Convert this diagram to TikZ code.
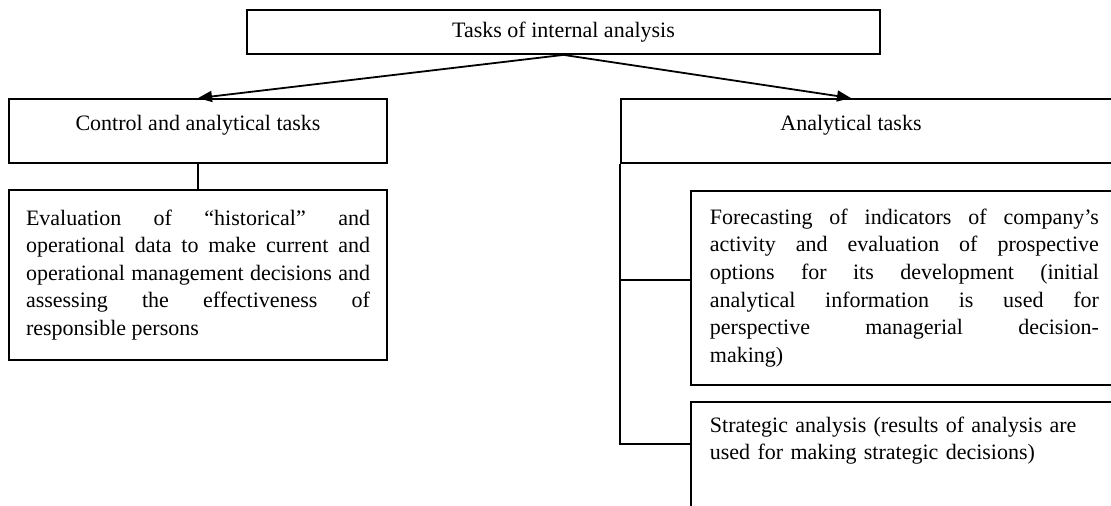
\documentclass[tikz,border=0pt]{standalone}
\usepackage{fontspec}
\setmainfont{Liberation Serif}
\usetikzlibrary{arrows.meta}
\tikzstyle{tb}=[rectangle,draw=black,line width=0.9pt,inner sep=0pt,
  font=\fontsize{11}{13.8}\selectfont]
\tikzstyle{tt}=[inner sep=0pt,font=\fontsize{11}{13.8}\selectfont]
\tikzstyle{arr}=[line width=0.9pt,-{Triangle[length=7pt,width=5.5pt]}]

\begin{document}
\begin{tikzpicture}[x=0.5pt,y=-0.5pt]
    \clip (0,0) rectangle (1111,506);
    \node [style=tb,minimum width=316.5pt,minimum height=22pt] (task) at (563.5,32) {Tasks of internal analysis};
    \node [style=tb,minimum width=189pt,minimum height=32pt,text height=8pt,text depth=8pt] (ctrl) at (198,131) {Control and analytical tasks};
    \node [style=tb,minimum width=189pt,minimum height=85pt,text width=172pt,align=justify] (eval) at (198,275)
      {Evaluation of ``historical'' and\linebreak operational data to make current and\linebreak operational management decisions and\linebreak assessing the effectiveness of\linebreak responsible persons};
    \node [style=tb,minimum width=259.5pt,minimum height=32pt] (anal) at (880.5,131) {};
    \node [style=tt,text height=8pt,text depth=8pt] (antxt) at (851,131) {Analytical tasks};
    \node [style=tb,anchor=north west,inner xsep=9.5pt,text width=194.5pt,minimum height=97pt,align=justify] (fc) at (690,190)
      {Forecasting of indicators of company's\linebreak activity and evaluation of prospective\linebreak options for its development (initial\linebreak analytical information is used for\linebreak perspective managerial decision-\linebreak making)};
    \node [style=tb,anchor=north west,inner xsep=9.5pt,inner ysep=7.5pt,text width=194.5pt,text depth=60pt,align=left] (sa) at (690,401)
      {Strategic analysis (results of analysis are\\ used for making strategic decisions)};
    \draw [style=arr] (task.south) to (ctrl.north);
    \draw [style=arr] (task.south) to (anal.north -| antxt);
    \draw [line width=0.9pt] (ctrl) to (eval);
    \draw [line width=0.9pt] (anal.south west) |- ([yshift=4pt]fc.west);
    \draw [line width=0.9pt] (anal.south west) |- ([yshift=-21.5pt]sa.north west);
\end{tikzpicture}
\end{document}
